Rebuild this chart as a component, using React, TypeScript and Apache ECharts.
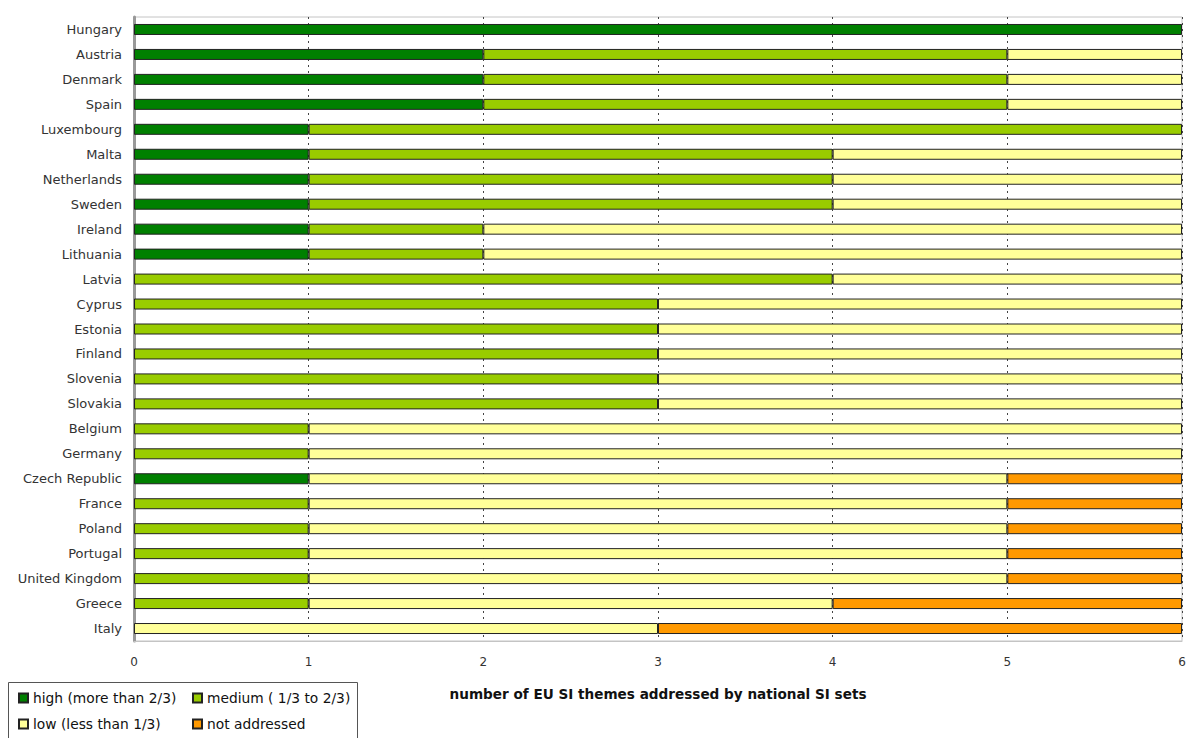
import React, { useEffect, useRef } from "react";
import * as echarts from "echarts";

// Countries, top to bottom
const countries = [
  "Hungary", "Austria", "Denmark", "Spain", "Luxembourg", "Malta", "Netherlands",
  "Sweden", "Ireland", "Lithuania", "Latvia", "Cyprus", "Estonia", "Finland",
  "Slovenia", "Slovakia", "Belgium", "Germany", "Czech Republic", "France",
  "Poland", "Portugal", "United Kingdom", "Greece", "Italy",
];

// Number of EU SI themes per coverage level
const high = [6, 2, 2, 2, 1, 1, 1, 1, 1, 1, 0, 0, 0, 0, 0, 0, 0, 0, 1, 0, 0, 0, 0, 0, 0];
const medium = [0, 3, 3, 3, 5, 3, 3, 3, 1, 1, 4, 3, 3, 3, 3, 3, 1, 1, 0, 1, 1, 1, 1, 1, 0];
const low = [0, 1, 1, 1, 0, 2, 2, 2, 4, 4, 2, 3, 3, 3, 3, 3, 5, 5, 4, 4, 4, 4, 4, 3, 3];
const notAddressed = [0, 0, 0, 0, 0, 0, 0, 0, 0, 0, 0, 0, 0, 0, 0, 0, 0, 0, 1, 1, 1, 1, 1, 2, 3];

const xTicks = [0, 1, 2, 3, 4, 5, 6];

const levels = [
  { name: "high (more than 2/3)", values: high, color: "#008000" },
  { name: "medium ( 1/3 to 2/3)", values: medium, color: "#99CC00" },
  { name: "low (less than 1/3)", values: low, color: "#FFFF99" },
  { name: "not addressed", values: notAddressed, color: "#FF9900" },
];

const FONT = "DejaVu Sans";

export default function App() {
  const ref = useRef<HTMLDivElement>(null);

  useEffect(() => {
    if (!ref.current) return;
    const chart = echarts.init(ref.current, undefined, { renderer: "svg" });

    const series = levels.map((lv) => ({
      name: lv.name,
      type: "bar",
      stack: "themes",
      barWidth: 11,
      data: lv.values.map((v) => (v === 0 ? "-" : v)),
      itemStyle: { color: lv.color, borderColor: "#222", borderWidth: 1 },
      emphasis: { disabled: true },
    }));

    const legendText = { fontFamily: FONT, fontSize: 13.8, color: "#111" };
    const legendBase = {
      orient: "vertical",
      top: 686,
      icon: "rect",
      itemWidth: 9,
      itemHeight: 9,
      itemGap: 12,
      textStyle: legendText,
      selectedMode: false,
    };

    chart.setOption({
      animation: false,
      backgroundColor: "#ffffff",
      grid: {
        left: 134,
        right: 10,
        top: 17,
        bottom: 97,
        show: true,
        borderColor: "#c4c4c4",
        borderWidth: 1,
      },
      xAxis: {
        type: "value",
        min: xTicks[0],
        max: xTicks[xTicks.length - 1],
        interval: 1,
        name: "number of EU SI themes addressed by national SI sets",
        nameLocation: "middle",
        nameGap: 46,
        nameTextStyle: { fontFamily: FONT, fontSize: 13.6, fontWeight: "bold", color: "#111" },
        axisLine: { show: true, lineStyle: { color: "#c4c4c4" } },
        axisTick: { show: false },
        axisLabel: { fontFamily: FONT, fontSize: 12, color: "#333", margin: 15 },
        splitLine: { show: true, lineStyle: { color: "#444", type: [2, 4], width: 1 } },
      },
      yAxis: {
        type: "category",
        data: countries,
        inverse: true,
        axisLine: { show: true, lineStyle: { color: "#999", width: 3 } },
        axisTick: { show: false },
        axisLabel: { fontFamily: FONT, fontSize: 13, color: "#333", margin: 12, padding: [3, 0, 0, 0] },
        splitLine: { show: false },
      },
      legend: [
        { ...legendBase, data: [levels[0].name, levels[2].name], left: 13 },
        { ...legendBase, data: [levels[1].name, levels[3].name], left: 187 },
      ],
      graphic: [
        {
          type: "rect",
          shape: { x: 8.5, y: 682.5, width: 349, height: 62 },
          style: { fill: "none", stroke: "#555", lineWidth: 1 },
          silent: true,
        },
      ],
      series,
    });

    return () => chart.dispose();
  }, []);

  return (
    <div
      ref={ref}
      style={{ position: "fixed", left: 0, top: 0, width: 1192, height: 738 }}
    />
  );
}
